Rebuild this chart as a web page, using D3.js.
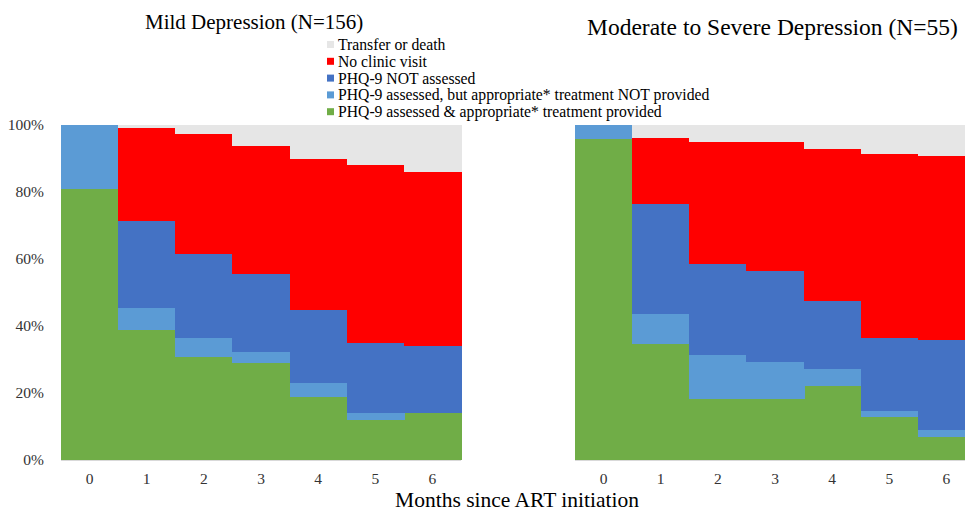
<!DOCTYPE html>
<html>
<head>
<meta charset="utf-8">
<script src="https://cdn.jsdelivr.net/npm/d3@7/dist/d3.min.js"></script>
<style>
  body { margin: 0; background: #fff; }
  svg { display: block; font-family: "Liberation Serif", "Times New Roman", serif; }
</style>
</head>
<body>
<div id="chart"></div>
<script>
// months since ART initiation
var months = ["0", "1", "2", "3", "4", "5", "6"];
var yTicks = [0, 20, 40, 60, 80, 100];

// series names, bottom to top of each stack
var seriesKeys = ["provided", "notProvided", "notAssessed", "noVisit", "transfer"];
var seriesLabels = [
  "PHQ-9 assessed & appropriate* treatment provided",
  "PHQ-9 assessed, but appropriate* treatment NOT provided",
  "PHQ-9 NOT assessed",
  "No clinic visit",
  "Transfer or death"
];
var seriesColors = ["#70ad47", "#5b9bd5", "#4472c4", "#ff0000", "#e6e6e6"];

// Mild depression (N=156), percent per month
var mildProvided    = [81.0, 38.7, 30.6, 29.1, 18.9, 11.9, 13.9];
var mildNotProvided = [19.0,  6.8,  5.8,  3.1,  4.0,  2.0,  0.0];
var mildNotAssessed = [ 0.0, 25.8, 25.0, 23.3, 22.0, 21.0, 20.0];
var mildNoVisit     = [ 0.0, 27.9, 35.8, 38.2, 45.0, 53.1, 52.1];
var mildTransfer    = [ 0.0,  0.8,  2.8,  6.3, 10.1, 12.0, 14.0];

// Moderate to severe depression (N=55), percent per month
var modProvided    = [95.8, 34.7, 18.1, 18.1, 22.1, 12.7,  6.9];
var modNotProvided = [ 4.2,  8.9, 13.2, 11.2,  5.2,  1.8,  2.0];
var modNotAssessed = [ 0.0, 32.7, 27.2, 27.2, 20.2, 21.8, 27.0];
var modNoVisit     = [ 0.0, 19.8, 36.3, 38.3, 45.2, 54.9, 54.9];
var modTransfer    = [ 0.0,  3.9,  5.2,  5.2,  7.3,  8.8,  9.2];

function toRows(arrs) {
  return months.map(function (m, i) {
    var row = { month: m };
    seriesKeys.forEach(function (k, j) { row[k] = arrs[j][i]; });
    return row;
  });
}

var mildRows = toRows([mildProvided, mildNotProvided, mildNotAssessed, mildNoVisit, mildTransfer]);
var modRows = toRows([modProvided, modNotProvided, modNotAssessed, modNoVisit, modTransfer]);

var width = 965, height = 511;
var serif = "Liberation Serif, Times New Roman, serif";

var svg = d3.select("#chart").append("svg")
    .attr("width", width)
    .attr("height", height);

var y = d3.scaleLinear().domain([0, 100]).range([460, 125]);
var color = d3.scaleOrdinal().domain(seriesKeys).range(seriesColors);
var stack = d3.stack().keys(seriesKeys);

// axis labels: serif, like the rest of the figure
function styleTicks(axisG) {
  axisG.select(".domain").remove();
  axisG.selectAll("text")
      .style("font-family", serif)
      .style("font-size", "15.5px")
      .attr("fill", "#333");
}

function drawPanel(rows, x0, x1, showY) {
  var x = d3.scaleBand().domain(months).range([x0, x1]).padding(0);
  var g = svg.append("g");

  g.selectAll("g.series")
      .data(stack(rows))
      .enter()
      .append("g")
      .attr("class", "series")
      .attr("fill", d => color(d.key))
      .attr("shape-rendering", "crispEdges")
    .selectAll("rect")
      .data(d => d)
      .enter()
      .append("rect")
      .attr("x", d => x(d.data.month))
      .attr("width", x.bandwidth() + 1)
      .attr("y", d => y(d[1]))
      .attr("height", d => Math.max(0, y(d[0]) - y(d[1])));

  // baseline
  g.append("line")
      .attr("x1", x0).attr("x2", x1)
      .attr("y1", y(0) + 0.5).attr("y2", y(0) + 0.5)
      .attr("stroke", "#d9d9d9");

  var xAxis = g.append("g")
      .attr("transform", "translate(0," + y(0) + ")")
      .call(d3.axisBottom(x).tickSize(0).tickPadding(13));
  styleTicks(xAxis);

  if (showY) {
    var yAxis = g.append("g")
        .attr("transform", "translate(" + (x0 - 14) + ",0)")
        .call(d3.axisLeft(y).tickValues(yTicks).tickSize(0)
              .tickFormat(d => d + "%"));
    styleTicks(yAxis);
  }
}

drawPanel(mildRows, 61, 461, true);
drawPanel(modRows, 575, 975, false);

// panel titles
svg.append("text")
    .attr("x", 145).attr("y", 29)
    .style("font-size", "21px")
    .text("Mild Depression (N=156)");

svg.append("text")
    .attr("x", 587).attr("y", 35)
    .style("font-size", "23.5px")
    .text("Moderate to Severe Depression (N=55)");

// legend (top to bottom: transfer ... provided)
var legendOrder = seriesKeys.slice().reverse();
var legend = svg.append("g").attr("transform", "translate(327,45)");
legend.selectAll("g")
    .data(legendOrder)
    .enter()
    .append("g")
    .attr("transform", (d, i) => "translate(0," + (i * 16.8) + ")")
    .each(function (d) {
      var item = d3.select(this);
      item.append("rect")
          .attr("x", 0).attr("y", -4)
          .attr("width", 7).attr("height", 7)
          .attr("fill", color(d));
      item.append("text")
          .attr("x", 11).attr("y", 5)
          .style("font-size", "15.7px")
          .text(seriesLabels[seriesKeys.indexOf(d)]);
    });

// x axis title
svg.append("text")
    .attr("x", 517).attr("y", 507)
    .attr("text-anchor", "middle")
    .style("font-size", "21.5px")
    .text("Months since ART initiation");
</script>
</body>
</html>
